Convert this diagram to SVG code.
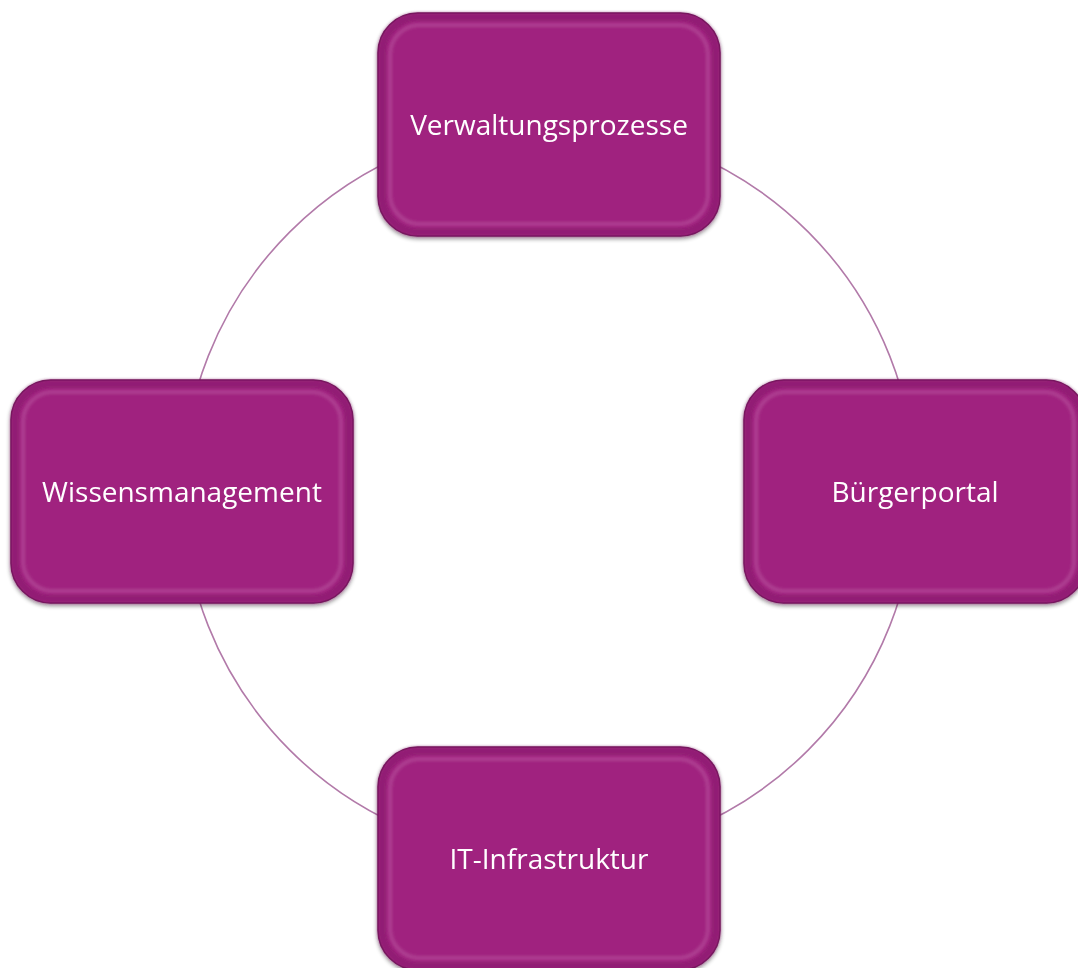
<svg xmlns="http://www.w3.org/2000/svg" width="1078" height="968" viewBox="0 0 1078 968">
  <defs>
    <style>
      .ring { fill: none; stroke: #b27aa9; stroke-width: 1.6; }
      .box { fill: #a0237f; stroke: #6e1357; stroke-width: 1.5; }
      .bevel { fill: none; stroke: #c46cae; stroke-width: 4; opacity: 0.38; filter: url(#soft); }
      .edge { fill: none; stroke: #8c1b6f; stroke-width: 8; opacity: 0.7; filter: url(#soft); }
      .label { font-family: "Open Sans", "Noto Sans", "Liberation Sans", sans-serif; font-size: 28px; fill: #ffffff; text-anchor: middle; }
    </style>
    <filter id="soft" x="-10%" y="-10%" width="120%" height="120%">
      <feGaussianBlur stdDeviation="1.8"/>
    </filter>
    <filter id="shadow" x="-10%" y="-10%" width="120%" height="125%">
      <feGaussianBlur in="SourceAlpha" stdDeviation="2"/>
      <feOffset dx="0" dy="2" result="b"/>
      <feComponentTransfer><feFuncA type="linear" slope="0.45"/></feComponentTransfer>
      <feMerge><feMergeNode/><feMergeNode in="SourceGraphic"/></feMerge>
    </filter>
    <clipPath id="page"><rect x="0" y="0" width="1078" height="968"/></clipPath>
  </defs>

  <rect x="0" y="0" width="1078" height="968" fill="#ffffff"/>

  <!-- connecting ring -->
  <g id="connectors">
    <circle class="ring" cx="549" cy="491" r="366.5"/>
  </g>

  <g clip-path="url(#page)">
    <g id="node-verwaltung" filter="url(#shadow)">
      <rect class="box" x="378" y="13" width="342" height="223" rx="40"/>
      <rect class="edge" x="382" y="17" width="334" height="215" rx="36"/>
      <rect class="bevel" x="390" y="25" width="318" height="199" rx="30"/>
      <text class="label" x="549" y="135">Verwaltungsprozesse</text>
    </g>

    <g id="node-buergerportal" filter="url(#shadow)">
      <rect class="box" x="744" y="380" width="342" height="223" rx="40"/>
      <rect class="edge" x="748" y="384" width="334" height="215" rx="36"/>
      <rect class="bevel" x="756" y="392" width="318" height="199" rx="30"/>
      <text class="label" x="915" y="502">Bürgerportal</text>
    </g>

    <g id="node-wissensmanagement" filter="url(#shadow)">
      <rect class="box" x="11" y="380" width="342" height="223" rx="40"/>
      <rect class="edge" x="15" y="384" width="334" height="215" rx="36"/>
      <rect class="bevel" x="23" y="392" width="318" height="199" rx="30"/>
      <text class="label" x="182" y="502">Wissensmanagement</text>
    </g>

    <g id="node-it-infrastruktur" filter="url(#shadow)">
      <rect class="box" x="378" y="747" width="342" height="223" rx="40"/>
      <rect class="edge" x="382" y="751" width="334" height="215" rx="36"/>
      <rect class="bevel" x="390" y="759" width="318" height="199" rx="30"/>
      <text class="label" x="549" y="869">IT-Infrastruktur</text>
    </g>
  </g>
</svg>
